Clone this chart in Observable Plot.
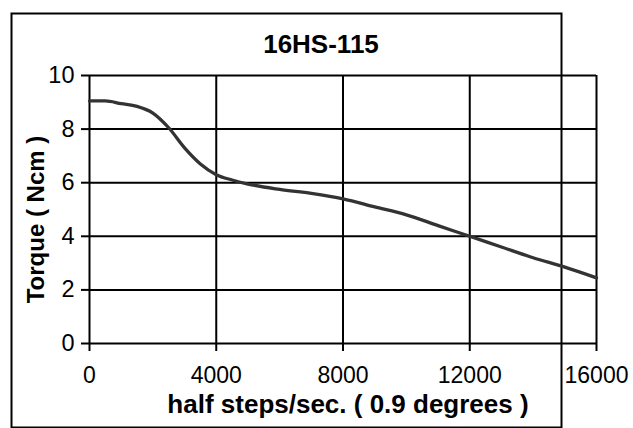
<!DOCTYPE html>
<html>
<head>
<meta charset="utf-8">
<script src="https://cdn.jsdelivr.net/npm/d3@7"></script>
<script src="https://cdn.jsdelivr.net/npm/@observablehq/plot@0.6"></script>
<style>
  html, body { margin: 0; padding: 0; background: #fff; }
  #chart svg { display: block; font-family: "Liberation Sans", Arial, sans-serif; }
</style>
</head>
<body>
<div id="chart"></div>
<script>
// Data
const speed = [0, 500, 1000, 1500, 2000, 2500, 3000, 3500, 4000, 4500, 5000, 6000, 7000, 8000, 9000, 10000, 11000, 12000, 13000, 14000, 15000, 16000];
const torque = [9.05, 9.05, 8.95, 8.85, 8.6, 8.05, 7.3, 6.7, 6.3, 6.1, 5.95, 5.75, 5.6, 5.4, 5.1, 4.8, 4.4, 4.0, 3.6, 3.2, 2.85, 2.45];
const xTicks = [0, 4000, 8000, 12000, 16000];
const yTicks = [0, 2, 4, 6, 8, 10];
const title = "16HS-115";
const xLabel = "half steps/sec. ( 0.9 degrees )";
const yLabel = "Torque ( Ncm )";

const data = speed.map((s, i) => ({speed: s, torque: torque[i]}));

const W = 633, H = 428;
const mL = 89, mR = 37, mT = 75, mB = 85;

const chart = Plot.plot({
  width: W,
  height: H,
  marginLeft: mL,
  marginRight: mR,
  marginTop: mT,
  marginBottom: mB,
  style: {background: "#fff", color: "#000", fontFamily: "Liberation Sans, Arial, sans-serif"},
  x: {domain: [0, 16000]},
  y: {domain: [0, 10]},
  marks: [
    // outer border of the chart area
    Plot.frame({stroke: "#000", strokeWidth: 2,
      insetLeft: -(mL - 11), insetTop: -(mT - 13), insetRight: -(W - mR - 631), insetBottom: -(427 - (H - mB))}),
    Plot.gridX(xTicks, {stroke: "#000", strokeOpacity: 1, strokeWidth: 2}),
    Plot.gridY(yTicks, {stroke: "#000", strokeOpacity: 1, strokeWidth: 2}),
    Plot.axisX(xTicks, {tickSize: 8, tickPadding: 15, fontSize: 23, strokeWidth: 2, label: null, tickFormat: d => String(d)}),
    Plot.axisY(yTicks, {tickSize: 8, tickPadding: 7, fontSize: 23.5, strokeWidth: 2, label: null}),
    Plot.line(data, {x: "speed", y: "torque", stroke: "#333333", strokeWidth: 3.3, curve: "monotone-x"}),
    Plot.text([title], {frameAnchor: "top", dx: -22, dy: -31, fontSize: 26, fontWeight: "bold", lineAnchor: "middle"}),
    Plot.text([xLabel], {frameAnchor: "bottom", dx: 5, dy: 61.5, fontSize: 26, fontWeight: "bold", lineAnchor: "middle", textAnchor: "middle"}),
    Plot.text([yLabel], {frameAnchor: "left", dx: -53.5, dy: 10, rotate: -90, fontSize: 24, fontWeight: "bold", lineAnchor: "middle", textAnchor: "middle"})
  ]
});

document.getElementById("chart").append(chart);
</script>
</body>
</html>
